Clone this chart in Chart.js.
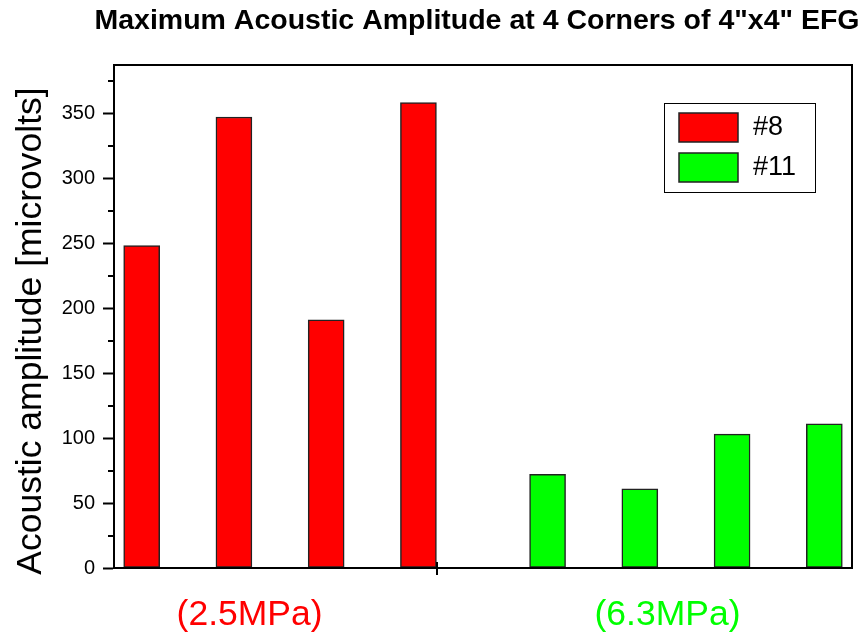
<!DOCTYPE html>
<html>
<head>
<meta charset="utf-8">
<script src="https://cdn.jsdelivr.net/npm/chart.js@4/dist/chart.umd.min.js"></script>
<style>
  html, body { margin: 0; padding: 0; background: #fff; }
  #wrap { width: 866px; height: 634px; }
</style>
</head>
<body>
<div id="wrap"><canvas id="c" width="866" height="634"></canvas></div>
<script>
// Maximum amplitude at the four corners, for each sample
const titleText = 'Maximum Acoustic Amplitude at 4 Corners of 4"x4" EFG';
const yTitleText = 'Acoustic amplitude [microvolts]';
const seriesNames = ['#8', '#11'];
const corners = [1, 2, 3, 4];
const amp8 = [248, 347, 191, 358];   // #8, microvolts
const amp11 = [72, 61, 103, 111];    // #11, microvolts
const pressureLabels = ['(2.5MPa)', '(6.3MPa)'];
const yTickValues = [0, 50, 100, 150, 200, 250, 300, 350];

// layout of the horizontal slots (axis units)
const groupStart = [0.3, 4.7];
const labelSlot = [1.47, 6.0];
const dividerSlot = 3.5;
const colors = ['#ff0000', '#00ff00'];
const FONT = '"Liberation Sans", Arial, sans-serif';

const toPoints = (vals, g) => vals.map((v, i) => ({ x: groupStart[g] + (corners[i] - 1), y: v }));

const xTicks = [
  { value: labelSlot[0], text: pressureLabels[0], color: colors[0] },
  { value: dividerSlot, text: '', color: '#000' },
  { value: labelSlot[1], text: pressureLabels[1], color: colors[1] }
];

const framePlugin = {
  id: 'frame',
  afterDraw(chart) {
    const { ctx, chartArea: a, scales } = chart;
    ctx.save();
    // box around plot
    ctx.strokeStyle = '#000';
    ctx.lineWidth = 2;
    ctx.strokeRect(a.left, a.top, a.right - a.left, a.bottom - a.top);
    // minor ticks on the y axis
    const y = scales.y;
    for (let v = 25; v < y.max; v += 50) {
      const py = Math.round(y.getPixelForValue(v));
      ctx.beginPath();
      ctx.moveTo(a.left - 6, py);
      ctx.lineTo(a.left, py);
      ctx.stroke();
    }
    // divider tick across the x axis
    const px = Math.round(scales.x.getPixelForValue(dividerSlot));
    ctx.beginPath();
    ctx.moveTo(px, a.bottom - 6);
    ctx.lineTo(px, a.bottom + 7);
    ctx.stroke();

    // title
    ctx.fillStyle = '#000';
    ctx.font = 'bold 28.5px ' + FONT;
    ctx.textAlign = 'center';
    ctx.textBaseline = 'middle';
    ctx.fillText(titleText, 477, 21);

    // y axis title
    ctx.save();
    ctx.translate(31, 331);
    ctx.rotate(-Math.PI / 2);
    ctx.font = '35.5px ' + FONT;
    ctx.fillText(yTitleText, 0, 0);
    ctx.restore();

    // legend
    const lx = 664, ly = 103, lw = 151, lh = 89;
    ctx.fillStyle = '#fff';
    ctx.fillRect(lx, ly, lw, lh);
    ctx.lineWidth = 1;
    ctx.strokeStyle = '#000';
    ctx.strokeRect(lx + 0.5, ly + 0.5, lw, lh);
    chart.data.datasets.forEach((ds, i) => {
      const sy = ly + 10 + i * 40;
      ctx.fillStyle = ds.backgroundColor;
      ctx.fillRect(lx + 15, sy, 59, 29);
      ctx.strokeStyle = '#222';
      ctx.lineWidth = 1.5;
      ctx.strokeRect(lx + 15, sy, 59, 29);
      ctx.fillStyle = '#000';
      ctx.font = '27px ' + FONT;
      ctx.textAlign = 'left';
      ctx.textBaseline = 'middle';
      ctx.fillText(ds.label, lx + 89, sy + 15);
    });
    ctx.restore();
  }
};

new Chart(document.getElementById('c'), {
  type: 'bar',
  data: {
    datasets: [
      { label: seriesNames[0], data: toPoints(amp8, 0), backgroundColor: colors[0] },
      { label: seriesNames[1], data: toPoints(amp11, 1), backgroundColor: colors[1] }
    ]
  },
  options: {
    responsive: false,
    animation: false,
    devicePixelRatio: 1,
    layout: { padding: { left: 0, right: 14, top: 65, bottom: 0 } },
    datasets: {
      bar: {
        grouped: false,
        barThickness: 36,
        borderColor: '#222',
        borderWidth: 1.5,
        borderSkipped: false
      }
    },
    plugins: {
      legend: { display: false },
      title: { display: false },
      tooltip: { enabled: false }
    },
    scales: {
      x: {
        type: 'linear',
        min: 0,
        max: 8,
        offset: false,
        afterBuildTicks(scale) { scale.ticks = xTicks.map(t => ({ value: t.value })); },
        afterFit(scale) { scale.height = 66; },
        border: { display: true, color: '#000', width: 2 },
        grid: { drawOnChartArea: false, drawTicks: false },
        ticks: {
          autoSkip: false,
          maxRotation: 0,
          padding: 26,
          font: { family: FONT, size: 35.5 },
          color: ctx => xTicks[ctx.index] ? xTicks[ctx.index].color : '#000',
          callback: (v, i) => xTicks[i] ? xTicks[i].text : ''
        }
      },
      y: {
        min: 0,
        max: 387,
        afterBuildTicks(scale) { scale.ticks = yTickValues.map(v => ({ value: v })); },
        afterFit(scale) { scale.width = 114; },
        border: { display: true, color: '#000', width: 2 },
        grid: { drawOnChartArea: false, drawTicks: true, tickLength: 11, tickWidth: 2, tickColor: '#000' },
        ticks: {
          padding: 8,
          color: '#000',
          font: { family: FONT, size: 20 }
        }
      }
    }
  },
  plugins: [framePlugin]
});
</script>
</body>
</html>
